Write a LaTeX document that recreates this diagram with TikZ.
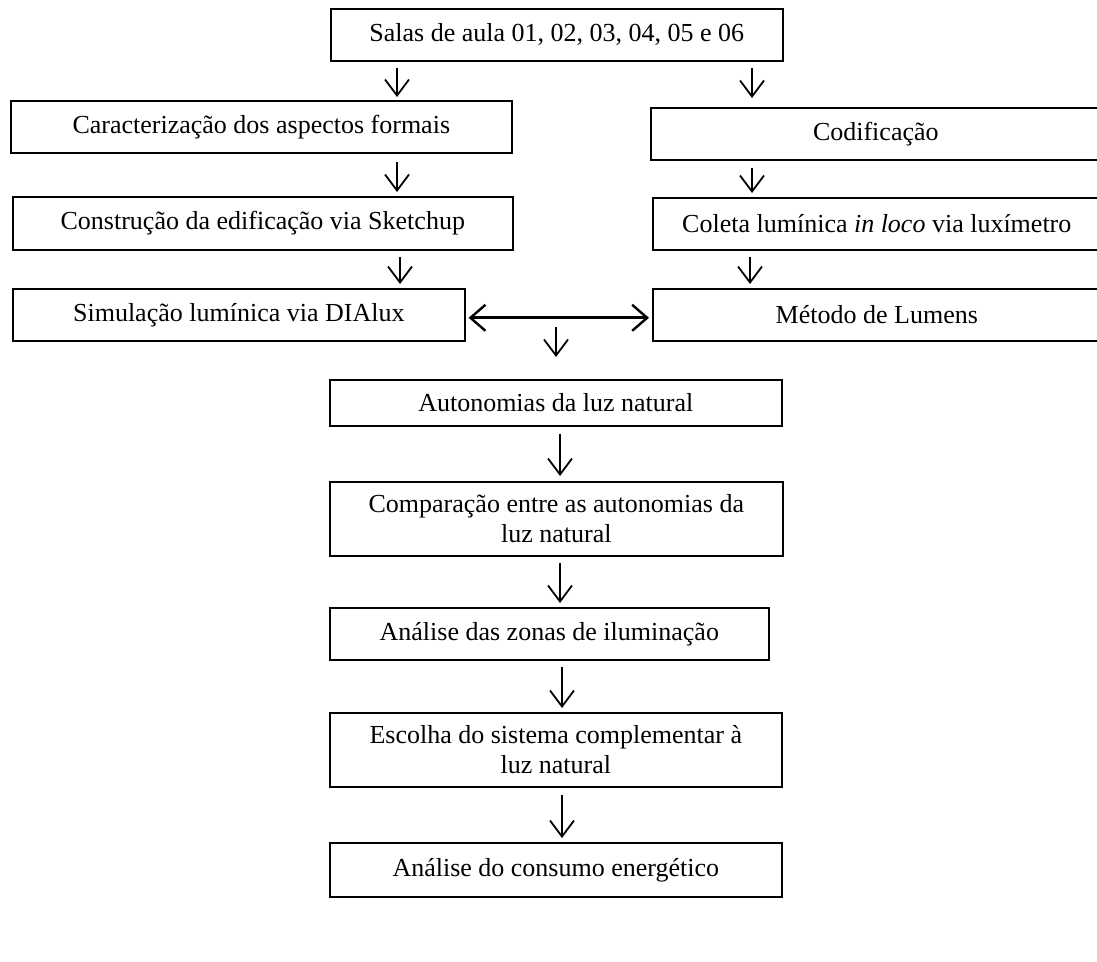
\documentclass[tikz,border=0pt]{standalone}
\usepackage{fontspec}
\setmainfont{Liberation Serif}
\usetikzlibrary{arrows.meta}
\begin{document}
\begin{tikzpicture}[x=1pt,y=-1pt,
  box/.style={draw,line width=1.6pt,anchor=north west,inner sep=0pt,align=center,
    font=\fontsize{26}{30}\selectfont},
  arr/.style={line width=1.8pt,-{Straight Barb[length=16pt,width=24pt,line width=1.8pt]}},
  darr/.style={line width=2.8pt,{Straight Barb[length=15pt,width=26pt,line width=2.4pt]}-{Straight Barb[length=15pt,width=26pt,line width=2.4pt]}},
]
\useasboundingbox (0,0) rectangle (1097,961);

% boxes
\node[box,minimum width=452pt,minimum height=52pt] (salas) at (330,8) {Salas de aula 01, 02, 03, 04, 05 e 06};
\node[box,minimum width=501pt,minimum height=52pt] (carac) at (10,100) {Caracterização dos aspectos formais};
\node[box,minimum width=450pt,minimum height=52pt] (codif) at (650,107) {Codificação};
\node[box,minimum width=500pt,minimum height=53pt] (constr) at (12,196) {Construção da edificação via Sketchup};
\node[box,minimum width=448pt,minimum height=52pt] (coleta) at (652,197) {Coleta lumínica \textit{in loco} via luxímetro};
\node[box,minimum width=452pt,minimum height=52pt] (simul) at (12,288) {Simulação lumínica via DIAlux};
\node[box,minimum width=448pt,minimum height=52pt] (metodo) at (652,288) {Método de Lumens};
\node[box,minimum width=452pt,minimum height=46pt] (auton) at (329,379) {Autonomias da luz natural};
\node[box,minimum width=453pt,minimum height=74pt] (compar) at (329,481) {Comparação entre as autonomias da\\luz natural};
\node[box,minimum width=439pt,minimum height=52pt] (zonas) at (329,607) {Análise das zonas de iluminação};
\node[box,minimum width=452pt,minimum height=74pt] (escolha) at (329,712) {Escolha do sistema complementar à\\luz natural};
\node[box,minimum width=452pt,minimum height=54pt] (consumo) at (329,842) {Análise do consumo energético};

% arrow x positions
\coordinate (xl1) at (397,0);
\coordinate (xl2) at (400,0);
\coordinate (xr1) at (752,0);
\coordinate (xr2) at (750,0);
\coordinate (dstart) at (556,327);
\coordinate (xc1) at (560,0);
\coordinate (xc2) at (562,0);

% connectors
\draw[arr,shorten <=6pt,shorten >=3pt] (salas.south -| xl1) -- (carac.north -| xl1);
\draw[arr,shorten <=6pt,shorten >=9pt] (salas.south -| xr1) -- (codif.north -| xr1);
\draw[arr,shorten <=8pt,shorten >=4pt] (carac.south -| xl1) -- (constr.north -| xl1);
\draw[arr,shorten <=7pt,shorten >=4pt] (codif.south -| xr1) -- (coleta.north -| xr1);
\draw[arr,shorten <=6pt,shorten >=4pt] (constr.south -| xl2) -- (simul.north -| xl2);
\draw[arr,shorten <=6pt,shorten >=4pt] (coleta.south -| xr2) -- (metodo.north -| xr2);
\draw[darr,shorten <=3pt,shorten >=3pt] ([yshift=-3pt]simul.east) -- ([yshift=-3pt]metodo.west);
\draw[arr,shorten >=22pt] (dstart) -- (auton.north -| dstart);
\draw[arr,shorten <=7pt,shorten >=5pt] (auton.south -| xc1) -- (compar.north -| xc1);
\draw[arr,shorten <=6pt,shorten >=4pt] (compar.south -| xc1) -- (zonas.north -| xc1);
\draw[arr,shorten <=6pt,shorten >=4pt] (zonas.south -| xc2) -- (escolha.north -| xc2);
\draw[arr,shorten <=7pt,shorten >=4pt] (escolha.south -| xc2) -- (consumo.north -| xc2);
\end{tikzpicture}
\end{document}
